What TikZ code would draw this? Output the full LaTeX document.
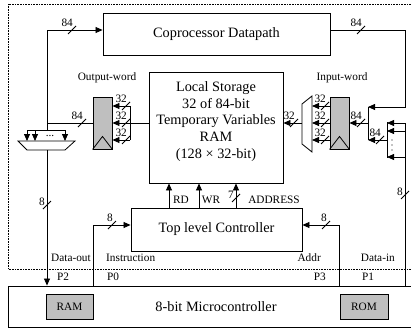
\documentclass[tikz,border=0pt]{standalone}
\usepackage{fontspec}
\setmainfont{Liberation Serif}
\usetikzlibrary{arrows.meta,calc}
\definecolor{regGray}{gray}{0.75}
\tikzset{
  box/.style={draw, line width=0.9pt, inner sep=0pt},
  reg/.style={draw, line width=0.9pt, fill=regGray, minimum width=19pt, minimum height=52pt, inner sep=0pt},
  arr/.style={-{Triangle[length=7pt,width=6pt]}, line width=0.8pt},
  ln/.style={line width=0.8pt},
  big/.style={font=\fontsize{14.3}{16.8}\selectfont},
  sm/.style={font=\fontsize{11.3}{13}\selectfont},
  hlbl/.style={anchor=south east, inner sep=0pt, font=\fontsize{11.3}{13}\selectfont},
  vlbl/.style={anchor=east, inner sep=0pt, font=\fontsize{11.3}{13}\selectfont},
}
\newcommand{\hbus}[4]{%
  \draw[ln] (#2-4,#3+4) -- (#2+4,#3-4);
  \node[hlbl] (#1) at (#2+1,#3-3) {#4};}
\newcommand{\vbus}[4]{%
  \draw[ln] (#2-4,#3+4) -- (#2+4,#3-4);
  \node[vlbl] (#1) at (#2-2,#3-3) {#4};}
\begin{document}
\begin{tikzpicture}[x=1pt,y=-1pt]
\useasboundingbox (0,0) rectangle (411,329);
\clip (0,0) rectangle (411,329);
\fill[white] (0,0) rectangle (411,329);
% dotted frame
\draw[densely dotted, line width=0.6pt] (8,4) rectangle (430,269);
% main blocks
\node[box, minimum width=227pt, minimum height=42pt, big] (copro) at (216.5,34) {Coprocessor Datapath};
\node[box, minimum width=134pt, minimum height=111pt] (local) at (216,127.5) {};
\node[big, align=center, inner sep=0pt] (localtxt) at (216,121.5) {Local Storage\\32 of 84-bit\\Temporary Variables\\RAM\\(128 × 32-bit)};
\node[box, minimum width=171pt, minimum height=43pt, big] (ctrl) at (216.5,229.5) {Top level Controller};
\node[box, minimum width=420pt, minimum height=41pt] (mc) at (218,306.5) {};
\node[big] (mctxt) at (216,307) {8-bit Microcontroller};
\node[box, fill=regGray, minimum width=47pt, minimum height=25pt, sm] (ram) at (69.5,306.5) {RAM};
\node[box, fill=regGray, minimum width=48pt, minimum height=25pt, sm] (rom) at (364,306.5) {ROM};
% registers
\node[reg] (oreg) at (102.5,123) {};
\node[reg] (ireg) at (339.5,123) {};
\draw[ln] (oreg.south west) -- ($(oreg.south)+(0,-13)$) -- (oreg.south east);
\draw[ln] (ireg.south west) -- ($(ireg.south)+(0,-13)$) -- (ireg.south east);
\node[sm] (ow) at (107,78) {Output-word};
\node[sm] (iw) at (342,78) {Input-word};
% ---- left side: output word to coprocessor / microcontroller
\coordinate (jl) at (47,123);
\coordinate (tl) at (47,30);
\coordinate (jb) at (47,130);
\draw[ln] (oreg.west) -- (jl);
\draw[arr] (jl) -- (tl) -- (copro.west |- tl);
\hbus{l84a}{72}{30}{84}
\hbus{l84b}{82}{123}{84}
\draw[ln] (jl) -- (jb);
\coordinate (b1) at (27,130);
\coordinate (b2) at (35,130);
\coordinate (b3) at (65,130);
\draw[ln] (b1) -- (b3);
\draw[arr] (b1) -- ++(0,11);
\draw[arr] (b2) -- ++(0,11);
\draw[arr] (b3) -- ++(0,11);
\node[sm, inner sep=0pt] (ldots) at (50,136) {...};
\coordinate (dmx1) at (18,141);
\coordinate (dmx2) at (75,141);
\coordinate (dmx3) at (65,150);
\coordinate (dmx4) at (27,150);
\coordinate (dmxout) at (47,150);
\draw[ln] (dmx1) -- (dmx2) -- (dmx3) -- (dmx4) -- cycle;
\draw[arr] (dmxout) -- (dmxout |- mc.north);
\vbus{l8}{47}{205}{8}
% local storage -> output word register
\coordinate (lb1) at (130,106);
\coordinate (lb2) at (130,123);
\coordinate (lb3) at (130,140);
\draw[ln] (local.west |- lb2) -- (lb2);
\draw[ln] (lb1) -- (lb3);
\draw[arr] (lb1) -- (oreg.east |- lb1);
\draw[arr] (lb2) -- (oreg.east |- lb2);
\draw[arr] (lb3) -- (oreg.east |- lb3);
\hbus{o32a}{126}{106}{32}
\hbus{o32b}{126}{123}{32}
\hbus{o32c}{126}{140}{32}
% ---- right side: input word
\coordinate (mx1) at (302,104);
\coordinate (mx2) at (312,96);
\coordinate (mx3) at (312,152);
\coordinate (mx4) at (302,144);
\coordinate (mxout) at (302,123);
\coordinate (mr1) at (312,106);
\coordinate (mr2) at (312,123);
\coordinate (mr3) at (312,140);
\draw[ln] (mx1) -- (mx2) -- (mx3) -- (mx4) -- cycle;
\draw[arr] (ireg.west |- mr1) -- (mr1);
\draw[arr] (ireg.west |- mr2) -- (mr2);
\draw[arr] (ireg.west |- mr3) -- (mr3);
\hbus{i32a}{325}{106}{32}
\hbus{i32b}{325}{123}{32}
\hbus{i32c}{325}{140}{32}
\draw[arr] (mxout) -- (local.east |- mxout);
\hbus{i32o}{294}{123}{32}
% mux 1
\coordinate (m1t) at (368,107);
\coordinate (m1m) at (368,123);
\coordinate (m1b) at (368,140);
\draw[ln] (m1t) -- (m1b);
\draw[arr] (m1m) -- (ireg.east |- m1m);
\hbus{i84a}{361}{123}{84}
% top bus from coprocessor
\coordinate (tr) at (405,30);
\coordinate (trb) at (405,107);
\draw[arr] (copro.east |- tr) -- (tr) -- (trb) -- (m1t);
\hbus{r84}{361}{30}{84}
% mux 2
\coordinate (m2t) at (387,122);
\coordinate (m2o) at (387,140);
\coordinate (m2b) at (387,158);
\draw[ln] (m2t) -- (m2b);
\draw[arr] (m2o) -- (m1b);
\hbus{i84b}{380}{140}{84}
\fill (392,140) circle (0.7pt) (392,145) circle (0.7pt) (392,150) circle (0.7pt);
\coordinate (di1) at (405,123);
\coordinate (di2) at (405,131);
\coordinate (di3) at (405,157);
\draw[ln] (di1 |- mc.north) -- (di1);
\draw[arr] (di1) -- (m2t |- di1);
\draw[arr] (di2) -- (m2t |- di2);
\draw[arr] (di3) -- (m2t |- di3);
\vbus{r8}{405}{195}{8}
% ---- controller connections
\coordinate (ins) at (93,225);
\draw[arr] (ins |- mc.north) -- (ins) -- (ctrl.west |- ins);
\hbus{c8a}{112}{225}{8}
\coordinate (adr) at (339,225);
\draw[arr] (adr |- mc.north) -- (adr) -- (ctrl.east |- adr);
\hbus{c8b}{326}{225}{8}
\coordinate (rdx) at (169,0);
\coordinate (wrx) at (199,0);
\coordinate (adx) at (236,0);
\draw[arr] (ctrl.north -| rdx) -- (local.south -| rdx);
\draw[arr] (ctrl.north -| wrx) -- (local.south -| wrx);
\draw[arr] (ctrl.north -| adx) -- (local.south -| adx);
\vbus{c7}{236}{198}{7}
\node[sm] (rd) at (181,200) {RD};
\node[sm] (wr) at (211,200) {WR};
\node[sm] (addr) at (274,200) {ADDRESS};
% port labels
\node[sm, anchor=west, inner sep=0pt] (dout) at (51,258) {Data-out};
\node[sm, anchor=west, inner sep=0pt] (instr) at (106,258) {Instruction};
\node[sm, anchor=east, inner sep=0pt] (addrl) at (321,258) {Addr};
\node[sm, anchor=east, inner sep=0pt] (din) at (395,258) {Data-in};
\node[sm, anchor=west, inner sep=0pt] (p2) at (57,277) {P2};
\node[sm, anchor=west, inner sep=0pt] (p0) at (107,277) {P0};
\node[sm, anchor=east, inner sep=0pt] (p3) at (326,277) {P3};
\node[sm, anchor=west, inner sep=0pt] (p1) at (362,277) {P1};
\end{tikzpicture}
\end{document}
